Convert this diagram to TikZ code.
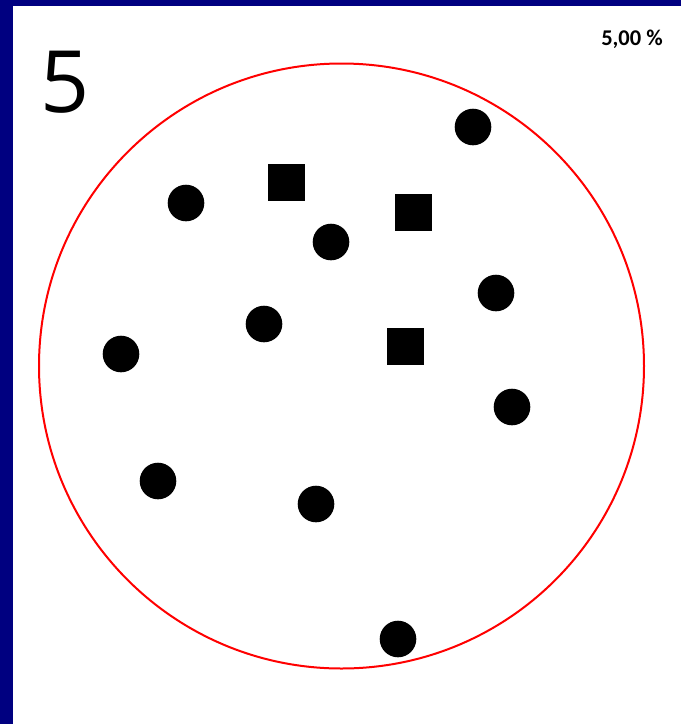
\documentclass[tikz,border=0pt]{standalone}
\usepackage{fontspec}
\setmainfont{Carlito}
\newfontfamily\numfont{Open Sans}
\usepackage{xcolor}
\usepackage{tikz}
\usetikzlibrary{positioning}
\definecolor{framenavy}{HTML}{000080}
\tikzset{
  dotnode/.style={circle, fill=black, inner sep=0pt, minimum size=36.6pt},
  sqnode/.style={rectangle, fill=black, inner sep=0pt, minimum size=37pt},
  ringline/.style={draw=red, line width=2pt},
  bignum/.style={font=\numfont\fontsize{86}{86}\selectfont, inner sep=0pt},
  pctlabel/.style={font=\fontsize{22.5}{22.5}\selectfont\bfseries, inner sep=0pt},
}

\begin{document}
\begin{tikzpicture}[x=1pt, y=-1pt]
  \useasboundingbox[fill=white] (0,0) rectangle (681,724);
  % frame
  \fill[framenavy] (0,0) rectangle (681,6);
  \fill[framenavy] (0,0) rectangle (13,724);

  \node[bignum] (count) at (65,82.5) {5};
  \node[pctlabel] (pct) at (632,39) {5,00 \%};

  \coordinate (centre) at (341.5,366);
  \draw[ringline] (centre) circle[radius=302.5];

  % dots
  \node[dotnode] (d1) at (473,127) {};
  \node[dotnode] (d2) at (186,203) {};
  \node[dotnode] (d3) at (331,242) {};
  \node[dotnode] (d4) at (496,293) {};
  \node[dotnode] (d5) at (264,324) {};
  \node[dotnode] (d6) at (121,354) {};
  \node[dotnode] (d7) at (512,407) {};
  \node[dotnode] (d8) at (158,481) {};
  \node[dotnode] (d9) at (316,504) {};
  \node[dotnode] (d10) at (398,639) {};

  % squares
  \node[sqnode] (s1) at (286.5,182.5) {};
  \node[sqnode] (s2) at (413.5,212.5) {};
  \node[sqnode] (s3) at (405.5,346.5) {};
\end{tikzpicture}
\end{document}
